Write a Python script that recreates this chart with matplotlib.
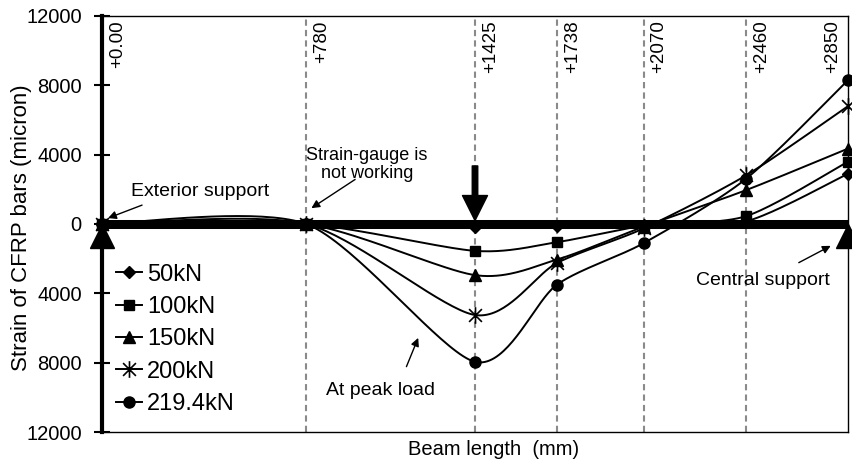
import numpy as np
import matplotlib
matplotlib.use("Agg")
import matplotlib.pyplot as plt
from matplotlib.path import Path

plt.rcParams['font.family'] = ['Liberation Sans', 'DejaVu Sans']

# gauge positions along the beam (mm) and strain readings (micron)
positions = [0, 780, 1425, 1738, 2070, 2460, 2850]
pos_labels = ['+0.00', '+780', '+1425', '+1738', '+2070', '+2460', '+2850']
loads = ['50kN', '100kN', '150kN', '200kN', '219.4kN']
s50 = [0, 0, -200, -100, -50, 150, 2900]
s100 = [0, 0, -1550, -1050, -100, 450, 3600]
s150 = [0, 0, -2950, -2050, -150, 1950, 4350]
s200 = [0, 0, -5250, -2250, -250, 2800, 6800]
s219 = [0, 0, -7950, -3500, -1100, 2600, 8300]
supports = [0, 2850]
yticks = [-12000, -8000, -4000, 0, 4000, 8000, 12000]


def smooth(xs, ys, n=40, k=0.13):
    # excel-like smoothed line (catmull-rom as cubic bezier)
    P = np.column_stack([xs, ys]).astype(float)
    P = np.vstack([P[0], P, P[-1]])
    out = []
    t = np.linspace(0, 1, n)[:, None]
    for i in range(1, len(P) - 2):
        p0 = P[i]; p3 = P[i + 1]
        c1 = p0 + (P[i + 1] - P[i - 1]) * k
        c2 = p3 - (P[i + 2] - P[i]) * k
        seg = (1 - t)**3 * p0 + 3 * (1 - t)**2 * t * c1 + 3 * (1 - t) * t**2 * c2 + t**3 * p3
        out.append(seg if i == 1 else seg[1:])
    out = np.vstack(out)
    return out[:, 0], out[:, 1]


star = Path([(-1, -1), (1, 1), (-1, 1), (1, -1), (0, -1.3), (0, 1.3)],
            [Path.MOVETO, Path.LINETO, Path.MOVETO, Path.LINETO, Path.MOVETO, Path.LINETO])
styles = [dict(marker='D', ms=6), dict(marker='s', ms=7), dict(marker='^', ms=8),
          dict(marker=star, ms=12, mfc='none', mew=1.2), dict(marker='o', ms=8)]

fig = plt.figure(figsize=(8.53, 4.66), dpi=100)
ax = fig.add_axes([102 / 853, 34 / 466, 746 / 853, 416 / 466])

for p in positions[1:-1]:
    ax.axvline(p, color='#8a8a8a', lw=1.5, ls=(0, (3, 2)), zorder=1)

ax.plot([positions[0], positions[-1]], [0, 0], color='k', lw=6.5, solid_capstyle='butt', zorder=2)

for vals, lab, st in zip([s50, s100, s150, s200, s219], loads, styles):
    sx, sy = smooth(positions, vals)
    ax.plot(sx, sy, color='k', lw=1.4, zorder=3)
    ax.plot(positions, vals, ls='none', color='k', zorder=4, clip_on=False, **st)
    ax.plot([], [], color='k', lw=1.4, label=lab, **st)

# supports
ax.plot(supports, [-700, -700], ls='none', marker='^', ms=17, color='k', clip_on=False, zorder=5)

# load arrow
ax.annotate('', xy=(1425, 200), xytext=(1425, 3350),
            arrowprops=dict(arrowstyle='simple,head_length=1.0,head_width=1.0,tail_width=0.22',
                            mutation_scale=18, fc='k', ec='k', shrinkA=0, shrinkB=0), zorder=6)

# position labels
for p, lab in zip(positions, pos_labels):
    off = -11 if p == positions[-1] else 11
    ax.annotate(lab, xy=(p, 12000), xytext=(off, -3), textcoords='offset points',
                rotation=90, ha='center', va='top', fontsize=13.5)

arr = dict(arrowstyle='-|>', color='k', lw=1, mutation_scale=12, shrinkA=0, shrinkB=0)
ax.text(375, 1890, 'Exterior support', ha='center', va='center', fontsize=14)
ax.annotate('', xy=(23, 340), xytext=(153, 1090), arrowprops=arr)
ax.text(1013, 3450, 'Strain-gauge is\nnot working', ha='center', va='center', fontsize=13,
        linespacing=1.1)
ax.annotate('', xy=(800, 914), xytext=(967, 2570), arrowprops=arr)
ax.text(1063, -9600, 'At peak load', ha='center', va='center', fontsize=14)
ax.annotate('', xy=(1208, -6570), xytext=(1163, -8230), arrowprops=arr)
ax.text(2524, -3250, 'Central support', ha='center', va='center', fontsize=14)
ax.annotate('', xy=(2784, -1260), xytext=(2662, -2230), arrowprops=arr)

ax.set_xlim(0, 2850)
ax.set_ylim(-12000, 12000)
ax.set_yticks(yticks)
ax.set_yticklabels([str(abs(v)) for v in yticks])
ax.set_xticks([])
ax.tick_params(axis='y', direction='inout', length=11, width=1.5, labelsize=14.5, pad=9)
ax.spines['left'].set_linewidth(3)
for s in ['top', 'right', 'bottom']:
    ax.spines[s].set_linewidth(1)

ax.set_ylabel('Strain of CFRP bars (micron)', fontsize=16)
ax.yaxis.set_label_coords(-0.094, 0.49)
ax.set_xlabel('Beam length  (mm)', fontsize=14.5)
ax.xaxis.set_label_coords(0.525, -0.02)

ax.legend(loc='upper left', bbox_to_anchor=(0.019, 0.405), frameon=False, fontsize=17,
          handlelength=1.1, handletextpad=0.22, labelspacing=0.44, borderaxespad=0, borderpad=0)

fig.savefig('out.png', dpi=100)
